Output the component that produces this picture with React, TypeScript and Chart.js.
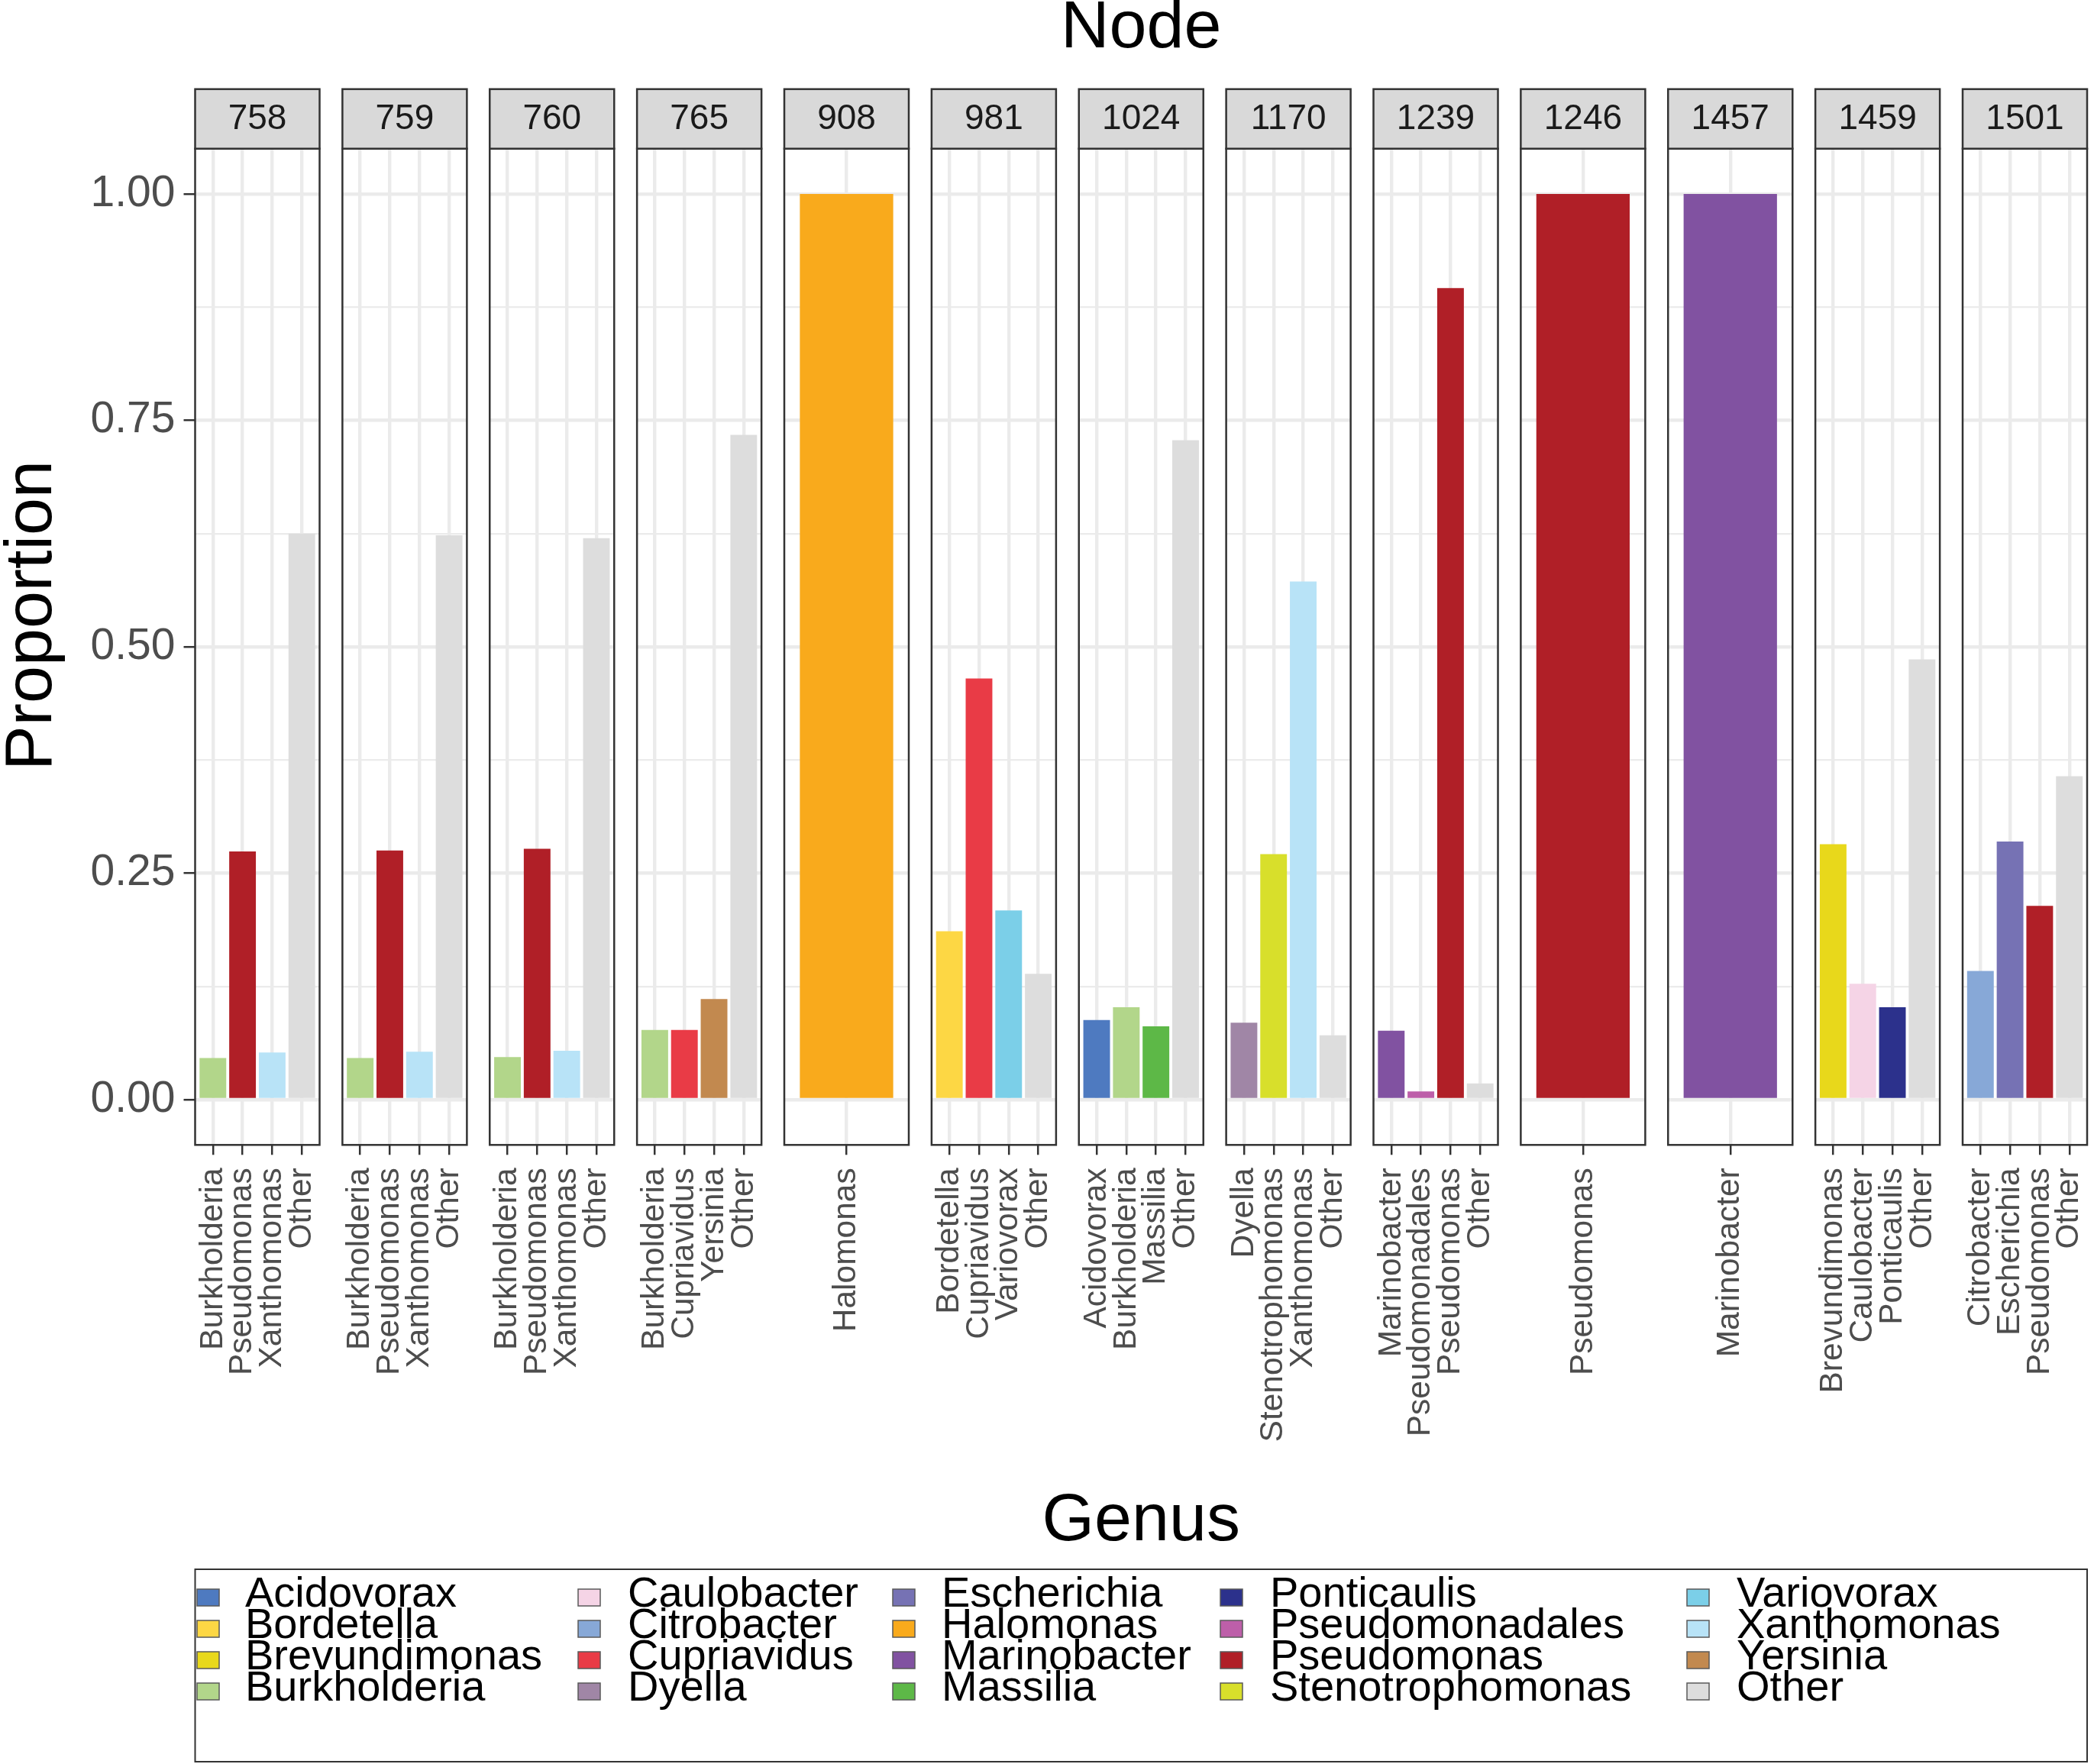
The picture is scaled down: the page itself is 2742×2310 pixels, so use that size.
import React, { useEffect, useRef } from 'react';
import { Chart, registerables } from 'chart.js';

Chart.register(...registerables);

// ---------------- data ----------------
const nodes = ['758', '759', '760', '765', '908', '981', '1024', '1170', '1239', '1246', '1457', '1459', '1501'];

const genus758 = ['Burkholderia', 'Pseudomonas', 'Xanthomonas', 'Other'];
const prop758 = [0.046, 0.274, 0.052, 0.625];
const genus759 = ['Burkholderia', 'Pseudomonas', 'Xanthomonas', 'Other'];
const prop759 = [0.046, 0.275, 0.053, 0.623];
const genus760 = ['Burkholderia', 'Pseudomonas', 'Xanthomonas', 'Other'];
const prop760 = [0.047, 0.277, 0.054, 0.62];
const genus765 = ['Burkholderia', 'Cupriavidus', 'Yersinia', 'Other'];
const prop765 = [0.077, 0.077, 0.111, 0.734];
const genus908 = ['Halomonas'];
const prop908 = [1.0];
const genus981 = ['Bordetella', 'Cupriavidus', 'Variovorax', 'Other'];
const prop981 = [0.186, 0.465, 0.209, 0.139];
const genus1024 = ['Acidovorax', 'Burkholderia', 'Massilia', 'Other'];
const prop1024 = [0.088, 0.102, 0.081, 0.728];
const genus1170 = ['Dyella', 'Stenotrophomonas', 'Xanthomonas', 'Other'];
const prop1170 = [0.085, 0.271, 0.572, 0.071];
const genus1239 = ['Marinobacter', 'Pseudomonadales', 'Pseudomonas', 'Other'];
const prop1239 = [0.076, 0.009, 0.896, 0.018];
const genus1246 = ['Pseudomonas'];
const prop1246 = [1.0];
const genus1457 = ['Marinobacter'];
const prop1457 = [1.0];
const genus1459 = ['Brevundimonas', 'Caulobacter', 'Ponticaulis', 'Other'];
const prop1459 = [0.282, 0.128, 0.102, 0.486];
const genus1501 = ['Citrobacter', 'Escherichia', 'Pseudomonas', 'Other'];
const prop1501 = [0.142, 0.285, 0.214, 0.357];

const panelGenera = [genus758, genus759, genus760, genus765, genus908, genus981, genus1024, genus1170, genus1239, genus1246, genus1457, genus1459, genus1501];
const panelProps = [prop758, prop759, prop760, prop765, prop908, prop981, prop1024, prop1170, prop1239, prop1246, prop1457, prop1459, prop1501];

const legendGenera = [
  'Acidovorax', 'Bordetella', 'Brevundimonas', 'Burkholderia',
  'Caulobacter', 'Citrobacter', 'Cupriavidus', 'Dyella',
  'Escherichia', 'Halomonas', 'Marinobacter', 'Massilia',
  'Ponticaulis', 'Pseudomonadales', 'Pseudomonas', 'Stenotrophomonas',
  'Variovorax', 'Xanthomonas', 'Yersinia', 'Other',
];
const legendColors = [
  '#4E7AC0', '#FDD744', '#E8D81B', '#B2D68A',
  '#F5D4E6', '#87A8D7', '#E93B46', '#A086A6',
  '#7672B4', '#F9AA1C', '#8152A1', '#5DB847',
  '#2C318C', '#BD5FA9', '#B01F27', '#D8DF2B',
  '#7BCFE8', '#B8E3F7', '#C2894F', '#DDDDDD',
];

const yMajorValues = [0, 0.25, 0.5, 0.75, 1];
const yTickLabels = ['0.00', '0.25', '0.50', '0.75', '1.00'];
const yMinorStep = 0.125;

const titleText = 'Node';
const xTitleText = 'Genus';
const yTitleText = 'Proportion';

// ---------------- layout / style ----------------
const CANVAS_W = 2742;
const CANVAS_H = 2310;
const FONT = "'Liberation Sans', Arial, Helvetica, sans-serif";
const PLOT_LEFT = 255.5;
const RIGHT_PAD = 9;
const PANEL_W = 163;
const GAP_W = 29.875;
const TITLE_SIZE = 88;
const TITLE_LH = 0.85;
const TITLE_PAD_BOTTOM = 119.9;
const X_AXIS_H = 456.3;
const BOTTOM_PAD = 279.6;
const STRIP_H = 78;
const GRID = '#EBEBEB';
const DARK = '#333333';
const AXIS_TEXT = '#4D4D4D';
const MAJOR_W = 4.4;
const MINOR_W = 2.2;

const LEG_TOP = 2055;
const LEG_H = 252;
const LEG_KEY_X = [258, 757, 1169, 1598, 2209];
const LEG_TEXT_X = [321, 822, 1233, 1663, 2274];
const LEG_ROW_Y0 = 2092;
const LEG_ROW_STEP = 41;
const LEG_ROWS = 4;
const LEG_FONT = 56;

const colorOf = (g: string) => legendColors[legendGenera.indexOf(g)];
const isMajor = (v: number) => yMajorValues.some((m) => Math.abs(m - v) < 1e-9);
const majorLabel = (v: number) => {
  const k = yMajorValues.findIndex((m) => Math.abs(m - v) < 1e-9);
  return k >= 0 ? yTickLabels[k] : '';
};

const facetPlugin = {
  id: 'facetDecor',
  beforeDatasetsDraw(chart: any) {
    const { ctx, chartArea } = chart;
    ctx.save();
    ctx.fillStyle = '#FFFFFF';
    for (let i = 0; i < nodes.length - 1; i++) {
      const a = chart.scales['xp' + i];
      const b = chart.scales['xp' + (i + 1)];
      ctx.fillRect(a.right, chartArea.top - 2, b.left - a.right, chartArea.bottom - chartArea.top + 4);
    }
    ctx.restore();
  },
  afterDraw(chart: any) {
    const { ctx, chartArea } = chart;
    ctx.save();
    // panels + strips
    nodes.forEach((node, i) => {
      const s = chart.scales['xp' + i];
      const left = s.left;
      const w = s.right - s.left;
      ctx.lineWidth = 2.5;
      ctx.strokeStyle = DARK;
      ctx.strokeRect(left, chartArea.top, w, chartArea.bottom - chartArea.top);
      const stripTop = chartArea.top - STRIP_H;
      ctx.fillStyle = '#D9D9D9';
      ctx.fillRect(left, stripTop, w, STRIP_H);
      ctx.strokeRect(left, stripTop, w, STRIP_H);
      ctx.fillStyle = '#1A1A1A';
      ctx.font = `46px ${FONT}`;
      ctx.textAlign = 'center';
      ctx.textBaseline = 'middle';
      ctx.fillText(node, left + w / 2, stripTop + STRIP_H / 2 + 1);
    });

    // y-axis title
    ctx.save();
    ctx.translate(42.5, 806);
    ctx.rotate(-Math.PI / 2);
    ctx.fillStyle = '#000000';
    ctx.font = `${TITLE_SIZE}px ${FONT}`;
    ctx.textAlign = 'center';
    ctx.textBaseline = 'middle';
    ctx.fillText(yTitleText, 0, 0);
    ctx.restore();

    // legend
    ctx.lineWidth = 2;
    ctx.strokeStyle = DARK;
    ctx.strokeRect(chartArea.left, LEG_TOP, chartArea.right - chartArea.left, LEG_H);
    ctx.font = `${LEG_FONT}px ${FONT}`;
    ctx.textAlign = 'left';
    ctx.textBaseline = 'middle';
    legendGenera.forEach((g, k) => {
      const col = Math.floor(k / LEG_ROWS);
      const row = k % LEG_ROWS;
      const cy = LEG_ROW_Y0 + row * LEG_ROW_STEP;
      ctx.fillStyle = legendColors[k];
      ctx.fillRect(LEG_KEY_X[col], cy - 11, 29, 22);
      ctx.lineWidth = 1.5;
      ctx.strokeStyle = '#595959';
      ctx.strokeRect(LEG_KEY_X[col], cy - 11, 29, 22);
      ctx.fillStyle = '#000000';
      ctx.fillText(g, LEG_TEXT_X[col], cy - 3);
    });
    ctx.restore();
  },
};

export default function App() {
  const ref = useRef<HTMLCanvasElement | null>(null);

  useEffect(() => {
    if (!ref.current) return;
    const scales: any = {};
    nodes.forEach((_, i) => {
      const genera = panelGenera[i];
      scales['xp' + i] = {
        type: 'linear',
        axis: 'x',
        position: 'bottom',
        stack: 'panels',
        stackWeight: PANEL_W,
        min: -0.6,
        max: genera.length - 0.4,
        offset: false,
        grid: {
          offset: false,
          color: GRID,
          lineWidth: MAJOR_W,
          drawTicks: true,
          tickLength: 13,
          tickColor: DARK,
          tickWidth: 2.5,
        },
        border: { display: false },
        ticks: {
          autoSkip: false,
          minRotation: 90,
          maxRotation: 90,
          padding: 17,
          color: AXIS_TEXT,
          font: { family: FONT, size: 42.5 },
          callback: (v: number) => (genera[v] !== undefined ? genera[v] : ''),
        },
        afterBuildTicks: (s: any) => {
          s.ticks = genera.map((_g, k) => ({ value: k }));
        },
        afterFit: (s: any) => {
          s.height = X_AXIS_H;
          s.paddingLeft = 0;
          s.paddingRight = 0;
        },
      };
      if (i < nodes.length - 1) {
        scales['xg' + i] = {
          type: 'linear',
          axis: 'x',
          position: 'bottom',
          stack: 'panels',
          stackWeight: GAP_W,
          min: 0,
          max: 1,
          grid: { display: false },
          border: { display: false },
          ticks: { display: false },
          afterFit: (s: any) => {
            s.height = X_AXIS_H;
            s.paddingLeft = 0;
            s.paddingRight = 0;
          },
        };
      }
    });
    scales.y = {
      type: 'linear',
      axis: 'y',
      position: 'left',
      min: -0.05,
      max: 1.05,
      grid: {
        color: GRID,
        lineWidth: (c: any) => (c.tick && isMajor(c.tick.value) ? MAJOR_W : MINOR_W),
        drawTicks: true,
        tickLength: 15,
        tickWidth: 2.5,
        tickColor: (c: any) => (c.tick && isMajor(c.tick.value) ? DARK : 'rgba(0,0,0,0)'),
      },
      border: { display: false },
      ticks: {
        stepSize: yMinorStep,
        includeBounds: false,
        autoSkip: false,
        padding: 11,
        color: AXIS_TEXT,
        font: { family: FONT, size: 57 },
        callback: (v: number) => majorLabel(v),
      },
      afterFit: (s: any) => {
        s.width = PLOT_LEFT;
        s.paddingTop = 0;
        s.paddingBottom = 0;
      },
    };

    const datasets = nodes.map((node, i) => ({
      type: 'bar' as const,
      label: node,
      xAxisID: 'xp' + i,
      yAxisID: 'y',
      data: panelProps[i].map((v, k) => ({ x: k, y: v })),
      backgroundColor: panelGenera[i].map(colorOf),
      borderWidth: 0,
      grouped: false,
      categoryPercentage: 0.9,
      barPercentage: panelGenera[i].length === 1 ? 1 / 1.2 : 1,
    }));

    const chart = new Chart(ref.current, {
      type: 'bar',
      data: { datasets: datasets as any },
      plugins: [facetPlugin],
      options: {
        responsive: false,
        animation: false,
        devicePixelRatio: 1,
        events: [],
        layout: {
          autoPadding: false,
          padding: { top: 0, left: 0, right: RIGHT_PAD, bottom: BOTTOM_PAD },
        },
        scales,
        plugins: {
          legend: { display: false },
          tooltip: { enabled: false },
          title: {
            display: true,
            text: titleText,
            position: 'top',
            fullSize: false,
            color: '#000000',
            font: { family: FONT, size: TITLE_SIZE, weight: 'normal', lineHeight: TITLE_LH },
            padding: { top: 0, bottom: TITLE_PAD_BOTTOM },
          },
          subtitle: {
            display: true,
            text: xTitleText,
            position: 'bottom',
            fullSize: false,
            color: '#000000',
            font: { family: FONT, size: TITLE_SIZE, weight: 'normal', lineHeight: TITLE_LH },
            padding: { top: 0, bottom: 0 },
          },
        },
      } as any,
    });
    return () => chart.destroy();
  }, []);

  return (
    <div style={{ position: 'absolute', left: 0, top: 0, width: CANVAS_W, height: CANVAS_H, background: '#FFFFFF' }}>
      <canvas ref={ref} width={CANVAS_W} height={CANVAS_H} style={{ display: 'block', width: CANVAS_W, height: CANVAS_H }} />
    </div>
  );
}
